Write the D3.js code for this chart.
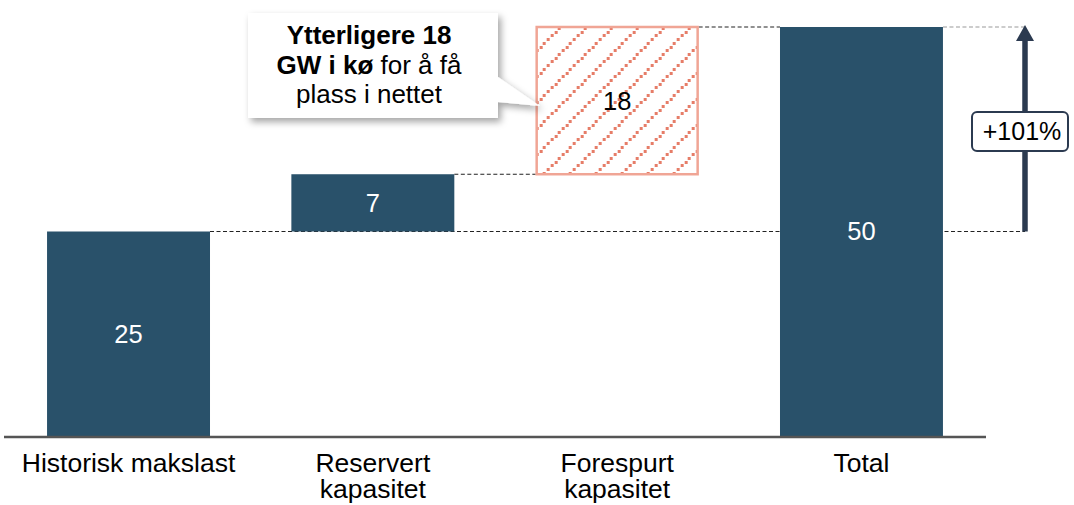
<!DOCTYPE html>
<html><head><meta charset="utf-8">
<script src="https://cdn.jsdelivr.net/npm/d3@7"></script>
<style>body{margin:0;background:#fff}svg{display:block;font-family:"Liberation Sans",Arial,sans-serif}</style>
</head><body>
<svg id="c" width="1074" height="505"></svg>
<script>
const categories = ["Historisk makslast", "Reservert\nkapasitet", "Forespurt\nkapasitet", "Total"];
const values = [25, 7, 18, 50];
const barTypes = ["base", "step", "pending", "total"];
const valueLabels = ["25", "7", "18", "50"];
const changeLabel = "+101%";
const calloutLines = [[["Ytterligere 18", true]], [["GW i kø", true], [" for å få", false]], [["plass i nettet", false]]];

const svg = d3.select("#c");
const baseY = 436;
const x = d3.scaleBand().domain(categories).range([6, 984]).paddingInner(0.333).paddingOuter(0.168);
const y = d3.scaleLinear().domain([0, 50]).range([baseY, 27]);

let cum = 0;
const bars = categories.map((c, i) => {
  let y0, y1;
  if (barTypes[i] === "total") { y0 = 0; y1 = values[i]; }
  else { y0 = cum; y1 = cum + values[i]; cum = y1; }
  return { c, i, y0, y1, type: barTypes[i], label: valueLabels[i] };
});

const defs = svg.append("defs");
const P = 26, N = 7;
const pat = defs.append("pattern").attr("id", "hatch").attr("patternUnits", "userSpaceOnUse")
  .attr("width", P).attr("height", P).attr("x", x(categories[2])).attr("y", y(50));
d3.range(N).forEach(k => {
  pat.append("rect").attr("x", Math.round(k * P / N)).attr("y", Math.round(P - (k + 1) * P / N))
    .attr("width", 3).attr("height", 3).attr("fill", "#e67d68").attr("shape-rendering", "crispEdges");
});
const f = defs.append("filter").attr("id", "shadow").attr("x", "-20%").attr("y", "-20%").attr("width", "140%").attr("height", "150%");
f.append("feDropShadow").attr("dx", 3).attr("dy", 4).attr("stdDeviation", 3.5).attr("flood-color", "#000").attr("flood-opacity", 0.35);

const arrowX = 1025;
const totalBar = bars[3];
const conn = svg.append("g").attr("fill", "none").attr("stroke-width", 1.2);
conn.append("line").attr("x1", x(categories[0]) + x.bandwidth()).attr("x2", arrowX)
  .attr("y1", y(bars[0].y1)).attr("y2", y(bars[0].y1)).attr("stroke", "#222").attr("stroke-dasharray", "4,2.5");
conn.append("line").attr("x1", x(categories[1]) + x.bandwidth()).attr("x2", x(categories[2]))
  .attr("y1", y(bars[1].y1)).attr("y2", y(bars[1].y1)).attr("stroke", "#222").attr("stroke-dasharray", "4,2.5");
conn.append("line").attr("x1", x(categories[2]) + x.bandwidth()).attr("x2", x(categories[3]))
  .attr("y1", y(bars[2].y1)).attr("y2", y(bars[2].y1)).attr("stroke", "#222").attr("stroke-dasharray", "4,2.5");
conn.append("line").attr("x1", x(categories[3]) + x.bandwidth()).attr("x2", arrowX)
  .attr("y1", y(totalBar.y1)).attr("y2", y(totalBar.y1)).attr("stroke", "#999").attr("stroke-dasharray", "4,2.5");

svg.append("g").selectAll("rect").data(bars).join("rect")
  .attr("x", d => x(d.c) + (d.type === "pending" ? 1 : 0))
  .attr("width", d => x.bandwidth() - (d.type === "pending" ? 2 : 0))
  .attr("y", d => y(d.y1))
  .attr("height", d => y(d.y0) - y(d.y1))
  .attr("fill", d => d.type === "pending" ? "url(#hatch)" : "#29516a")
  .attr("stroke", d => d.type === "pending" ? "#f0a595" : "none")
  .attr("stroke-width", 2.5);

svg.append("g").selectAll("text").data(bars).join("text")
  .attr("x", d => x(d.c) + x.bandwidth() / 2)
  .attr("y", d => (y(d.y0) + y(d.y1)) / 2)
  .attr("dy", "0.35em").attr("text-anchor", "middle")
  .attr("font-size", 25.5)
  .attr("fill", d => d.type === "pending" ? "#000" : "#fff")
  .text(d => d.label);

svg.append("line").attr("x1", 4).attr("x2", 986).attr("y1", baseY + 1).attr("y2", baseY + 1)
  .attr("stroke", "#555").attr("stroke-width", 2.5);
const axisG = svg.append("g").attr("transform", `translate(0,${baseY})`)
  .call(d3.axisBottom(x).tickSize(0).tickFormat(""));
axisG.select(".domain").remove();
axisG.selectAll(".tick").each(function(d) {
  const t = d3.select(this).append("text").attr("text-anchor", "middle").attr("fill", "#000")
    .attr("font-size", 26.5).attr("font-family", '"Liberation Sans",Arial,sans-serif');
  d.split("\n").forEach((s, k) => t.append("tspan").attr("x", 0).attr("y", 36 + k * 25.5).text(s));
});

svg.append("line").attr("x1", arrowX).attr("x2", arrowX).attr("y1", y(bars[0].y1)).attr("y2", y(totalBar.y1) + 12)
  .attr("stroke", "#2b3a50").attr("stroke-width", 5.5);
svg.append("path").attr("d", `M${arrowX},${y(totalBar.y1) - 2} L${arrowX + 9},${y(totalBar.y1) + 14} L${arrowX - 9},${y(totalBar.y1) + 14} Z`)
  .attr("fill", "#2b3a50");
svg.append("rect").attr("x", 972).attr("y", 112).attr("width", 96).attr("height", 39).attr("rx", 5)
  .attr("fill", "#fff").attr("stroke", "#2b3a50").attr("stroke-width", 2);
svg.append("text").attr("x", 1022).attr("y", 131).attr("dy", "0.35em").attr("text-anchor", "middle")
  .attr("font-size", 25).text(changeLabel);

const cg = svg.append("g");
cg.append("path").attr("d", "M248,13 H498 V77 L540,106 L498,102 V118 H248 Z")
  .attr("fill", "#fff").attr("filter", "url(#shadow)");
const ct = cg.append("text").attr("text-anchor", "middle").attr("font-size", 26).attr("fill", "#000");
calloutLines.forEach((line, k) => {
  line.forEach(([s, b], j) => {
    const ts = ct.append("tspan").attr("font-weight", b ? "bold" : "normal").text(s);
    if (j === 0) ts.attr("x", 369).attr("y", 44 + k * 29.5);
  });
});
</script>
</body></html>
